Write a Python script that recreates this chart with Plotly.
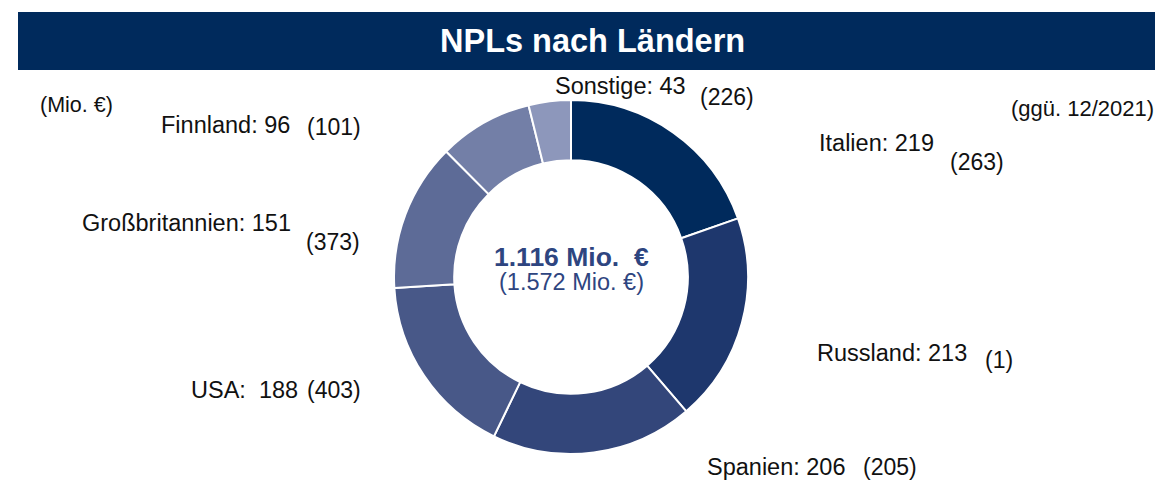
import plotly.graph_objects as go

W, H = 1163, 480
OFF = 8  # page body margin offset

countries = ["Italien", "Russland", "Spanien", "USA", "Großbritannien", "Finnland", "Sonstige"]
values_2022 = [219, 213, 206, 188, 151, 96, 43]
values_2021 = [263, 1, 205, 403, 373, 101, 226]
colors = ["#002A5C", "#1E376D", "#33467A", "#485888", "#5D6B97", "#737FA7", "#8D97BB"]

total_now = "1.116 Mio.  €"
total_prev = "(1.572 Mio. €)"
title = "NPLs nach Ländern"
unit_note = "(Mio. €)"
compare_note = "(ggü. 12/2021)"

# label positions in pixels (center x, center y from top) for main label and previous value
label_pos = {
    "Italien": ((876, 143), (977, 162)),
    "Russland": ((892, 353), (999, 360)),
    "Spanien": ((776, 467), (890, 467)),
    "USA": ((244, 390), (334, 390)),
    "Großbritannien": ((186, 223), (333, 242)),
    "Finnland": ((225, 125), (334, 127)),
    "Sonstige": ((620, 86), (727, 97)),
}

FONT = "Liberation Sans, Arial, sans-serif"

cx, cy, r = 571, 277, 177


def px(x):
    return (x - OFF) / W


def py(y):
    return 1 - (y - OFF) / H


fig = go.Figure()
fig.add_trace(go.Pie(
    labels=countries,
    values=values_2022,
    sort=False,
    direction="clockwise",
    rotation=0,
    hole=0.66,
    textinfo="none",
    hoverinfo="label+value",
    marker=dict(colors=colors, line=dict(color="white", width=2)),
    domain=dict(x=[px(cx - r), px(cx + r)], y=[py(cy + r), py(cy - r)]),
    showlegend=False,
))

ann = []
for c, v, p in zip(countries, values_2022, values_2021):
    (mx, my), (qx, qy) = label_pos[c]
    sep = ":  " if c == "USA" else ": "
    ann.append(dict(x=px(mx), y=py(my), text=f"{c}{sep}{v}", showarrow=False,
                    xref="paper", yref="paper", xanchor="center", yanchor="middle",
                    font=dict(family=FONT, size=23.5, color="#111111")))
    ann.append(dict(x=px(qx), y=py(qy), text=f"({p})", showarrow=False,
                    xref="paper", yref="paper", xanchor="center", yanchor="middle",
                    font=dict(family=FONT, size=23, color="#111111")))

ann.append(dict(x=px(76), y=py(105), text=unit_note, showarrow=False, xref="paper", yref="paper",
                xanchor="center", yanchor="middle", font=dict(family=FONT, size=21.5, color="#111111")))
ann.append(dict(x=px(1082), y=py(108), text=compare_note, showarrow=False, xref="paper", yref="paper",
                xanchor="center", yanchor="middle", font=dict(family=FONT, size=22, color="#111111")))
ann.append(dict(x=px(571), y=py(257), text=f"<b>{total_now}</b>", showarrow=False, xref="paper", yref="paper",
                xanchor="center", yanchor="middle", font=dict(family=FONT, size=26.5, color="#2E4580")))
ann.append(dict(x=px(571), y=py(282), text=total_prev, showarrow=False, xref="paper", yref="paper",
                xanchor="center", yanchor="middle", font=dict(family=FONT, size=23.5, color="#2E4580")))
ann.append(dict(x=px(592), y=py(41), text=f"<b>{title}</b>", showarrow=False, xref="paper", yref="paper",
                xanchor="center", yanchor="middle", font=dict(family=FONT, size=32.5, color="white")))

fig.update_layout(
    width=W, height=H,
    margin=dict(l=0, r=0, t=0, b=0),
    paper_bgcolor="white",
    plot_bgcolor="white",
    annotations=ann,
    shapes=[dict(type="rect", xref="paper", yref="paper", x0=px(18), x1=1, y0=py(70), y1=py(12),
                 fillcolor="#002A5C", line=dict(width=0), layer="below")],
)

fig.write_html("out.html")
